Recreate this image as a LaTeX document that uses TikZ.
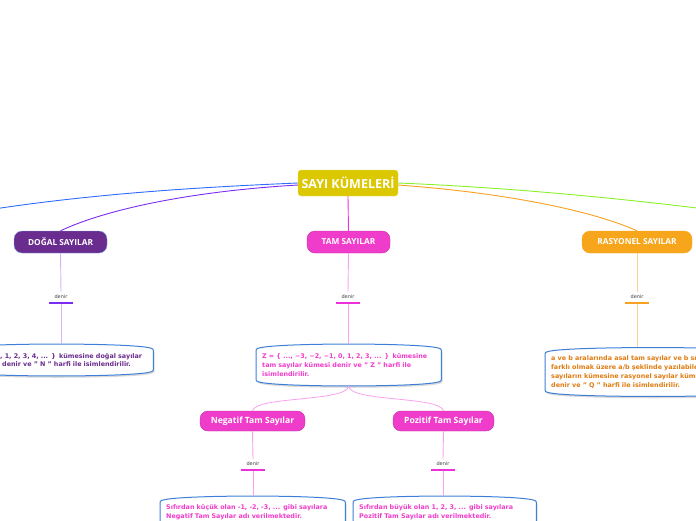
\documentclass[tikz,border=0pt]{standalone}
\usepackage{fontspec}
\setmainfont{DejaVu Sans}
\newfontfamily\pillfont{Open Sans}
\usetikzlibrary{shadows,backgrounds}

\definecolor{rootyellow}{HTML}{DCC800}
\definecolor{dogalpurple}{HTML}{6A2C8E}
\definecolor{tampink}{HTML}{F03CCB}
\definecolor{rasorange}{HTML}{F7A51A}
\definecolor{bubbleblue}{HTML}{3D7FD8}
\definecolor{lineblue}{HTML}{2F6BFF}
\definecolor{linepurple}{HTML}{7A2CF2}
\definecolor{linegreen}{HTML}{8CF028}
\definecolor{lineorange}{HTML}{F8A020}
\definecolor{linepink}{HTML}{EE30DC}
\definecolor{textorange}{HTML}{E07C12}

\tikzset{
    pill/.style={rounded corners=8pt, inner sep=0pt, minimum height=22pt,
        text=white, font=\pillfont\bfseries\fontsize{8.3}{10}\selectfont},
    bubble/.style={align=left, inner xsep=6pt, inner ysep=0pt, anchor=west,
        font=\bfseries\fontsize{6.4}{8.8}\selectfont},
    bubbleline/.style={draw=bubbleblue, line width=1pt, fill=white,
        drop shadow={opacity=0.3, shadow xshift=1.2pt, shadow yshift=-1.8pt}},
    denirlbl/.style={font=\fontsize{5}{6}\selectfont, text=black!75, inner sep=1pt},
    bar/.style={line width=1.5pt}
}

\begin{document}
\begin{tikzpicture}[x=1pt,y=-1pt]
\useasboundingbox (0,0) rectangle (696,520);
\clip (0,0) rectangle (696,520);

% Root
\node[rounded corners=3pt, fill=rootyellow, draw=rootyellow!60!white, minimum width=100pt,
    minimum height=26pt, inner sep=0pt, text=white,
    font=\pillfont\bfseries\fontsize{12.5}{14}\selectfont] (root) at (348,183) {SAYI KÜMELERİ};

% Main topics
\node[pill, fill=dogalpurple, draw=bubbleblue!70, minimum width=93pt] (dogal) at (60.5,242) {DOĞAL SAYILAR};
\node[pill, fill=tampink, draw=tampink!80!black, minimum width=83pt] (tam) at (348.5,242) {TAM SAYILAR};
\node[pill, fill=rasorange, draw=rasorange, minimum width=110pt] (ras) at (637,242) {RASYONEL SAYILAR};

% Off-page ends
\coordinate (offleft) at (-60,218);
\coordinate (offright) at (760,216);

% Branches from root
\draw[lineblue, line width=0.9pt] (root.west) .. controls (180,188) and (60,196) .. (offleft);
\draw[linepurple, line width=0.9pt] ([yshift=-2pt]root.west) .. controls (180,192) and (100,212) .. (dogal.north);
\draw[linegreen, line width=0.9pt] (root.east) .. controls (520,188) and (640,200) .. (offright);
\draw[lineorange, line width=0.9pt] ([yshift=-2pt]root.east) .. controls (520,194) and (600,214) .. (ras.north);
\draw[linepink, line width=0.9pt] (root.south) -- (tam.north);

% denir labels
\node[denirlbl] (d-dogal) at (61,297) {denir};
\node[denirlbl] (d-tam) at (348,297) {denir};
\node[denirlbl] (d-ras) at (637,297) {denir};

\draw[bar, linepurple] ([xshift=-12pt,yshift=-3pt]d-dogal.south) -- ([xshift=12pt,yshift=-3pt]d-dogal.south);
\draw[bar, linepink] ([xshift=-12pt,yshift=-3pt]d-tam.south) -- ([xshift=12pt,yshift=-3pt]d-tam.south);
\draw[bar, lineorange] ([xshift=-12pt,yshift=-3pt]d-ras.south) -- ([xshift=12pt,yshift=-3pt]d-ras.south);

% Bubbles
\node[bubble, text=dogalpurple, minimum width=193pt, minimum height=32pt, text width=181pt] (b-dogal) at (-40,360)
    {\hspace*{34pt}, 1, 2, 3, 4, ... \} kümesine doğal sayılar\\\hspace*{36pt}denir ve " N " harfi ile isimlendirilir.};
\node[bubble, text=tampink, minimum width=185pt, minimum height=42pt, text width=173pt] (b-tam) at (256,365)
    {Z = \{ ..., −3, −2, −1, 0, 1, 2, 3, ... \} kümesine\\tam sayılar kümesi denir ve " Z " harfi ile\\isimlendirilir.};
\node[bubble, text=textorange, minimum width=215pt, minimum height=49pt, text width=203pt] (b-ras) at (545,372)
    {a ve b aralarında asal tam sayılar ve b sıfırdan\\farklı olmak üzere a/b şeklinde yazılabilen\\sayıların kümesine rasyonel sayılar kümesi\\denir ve " Q " harfi ile isimlendirilir.};

% Connectors to bubbles
\draw[linepurple!35, line width=0.9pt] (dogal.south) -- ([yshift=2pt]d-dogal.north);
\draw[linepurple!35, line width=0.9pt] ([yshift=-4pt]d-dogal.south) -- (d-dogal.south |- b-dogal.north);
\draw[linepink!45, line width=0.9pt] (tam.south) -- ([yshift=2pt]d-tam.north);
\draw[linepink!45, line width=0.9pt] ([yshift=-4pt]d-tam.south) -- (d-tam.south |- b-tam.north);
\draw[lineorange!50, line width=0.9pt] (ras.south) -- ([yshift=2pt]d-ras.north);
\draw[lineorange!50, line width=0.9pt] ([yshift=-4pt]d-ras.south) -- (d-ras.south |- b-ras.north);

% Sub topics of TAM SAYILAR
\node[pill, fill=tampink, draw=tampink!80!black, minimum width=105pt, minimum height=20pt,
    font=\pillfont\bfseries\fontsize{8.6}{10}\selectfont] (neg) at (252.5,421) {Negatif Tam Sayılar};
\node[pill, fill=tampink, draw=tampink!80!black, minimum width=101pt, minimum height=20pt,
    font=\pillfont\bfseries\fontsize{8.6}{10}\selectfont] (poz) at (443.5,421) {Pozitif Tam Sayılar};

\draw[linepink!45, line width=0.8pt] (b-tam.south) .. controls (346,402) and (256,396) .. (neg.north);
\draw[linepink!45, line width=0.8pt] (b-tam.south) .. controls (350,402) and (440,396) .. (poz.north);

\node[denirlbl] (d-neg) at (253,464) {denir};
\node[denirlbl] (d-poz) at (443,464) {denir};
\draw[bar, linepink] ([xshift=-12pt,yshift=-3pt]d-neg.south) -- ([xshift=12pt,yshift=-3pt]d-neg.south);
\draw[bar, linepink] ([xshift=-12pt,yshift=-3pt]d-poz.south) -- ([xshift=12pt,yshift=-3pt]d-poz.south);

\node[bubble, text=tampink, minimum width=185pt, minimum height=32pt, text width=173pt] (b-neg) at (160,512)
    {Sıfırdan küçük olan -1, -2, -3, ... gibi sayılara\\Negatif Tam Sayılar adı verilmektedir.};
\node[bubble, text=tampink, minimum width=183pt, minimum height=32pt, text width=171pt] (b-poz) at (353,512)
    {Sıfırdan büyük olan 1, 2, 3, ... gibi sayılara\\Pozitif Tam Sayılar adı verilmektedir.};

\draw[linepink!45, line width=0.9pt] (neg.south) -- ([yshift=2pt]d-neg.north);
\draw[linepink!45, line width=0.9pt] ([yshift=-4pt]d-neg.south) -- (d-neg.south |- b-neg.north);
\draw[linepink!45, line width=0.9pt] (poz.south) -- ([yshift=2pt]d-poz.north);
\draw[linepink!45, line width=0.9pt] ([yshift=-4pt]d-poz.south) -- (d-poz.south |- b-poz.north);

% Bubble outlines, bulging top and bottom
\begin{scope}[on background layer]
\foreach \b in {b-dogal,b-tam,b-ras,b-neg,b-poz}
  \draw[bubbleline] ([xshift=4pt,yshift=-4pt]\b.north west)
      .. controls ([xshift=25pt,yshift=1pt]\b.north west) and ([xshift=-25pt,yshift=1pt]\b.north east)
      .. ([xshift=-4pt,yshift=-4pt]\b.north east)
      .. controls ([yshift=-5pt]\b.north east) .. ([yshift=-9pt]\b.north east)
      -- ([yshift=9pt]\b.south east)
      .. controls ([yshift=5pt]\b.south east) .. ([xshift=-4pt,yshift=4pt]\b.south east)
      .. controls ([xshift=-25pt,yshift=-1pt]\b.south east) and ([xshift=25pt,yshift=-1pt]\b.south west)
      .. ([xshift=4pt,yshift=4pt]\b.south west)
      .. controls ([yshift=5pt]\b.south west) .. ([yshift=9pt]\b.south west)
      -- ([yshift=-9pt]\b.north west)
      .. controls ([yshift=-5pt]\b.north west) .. ([xshift=4pt,yshift=-4pt]\b.north west) -- cycle;
\end{scope}

\end{tikzpicture}
\end{document}
